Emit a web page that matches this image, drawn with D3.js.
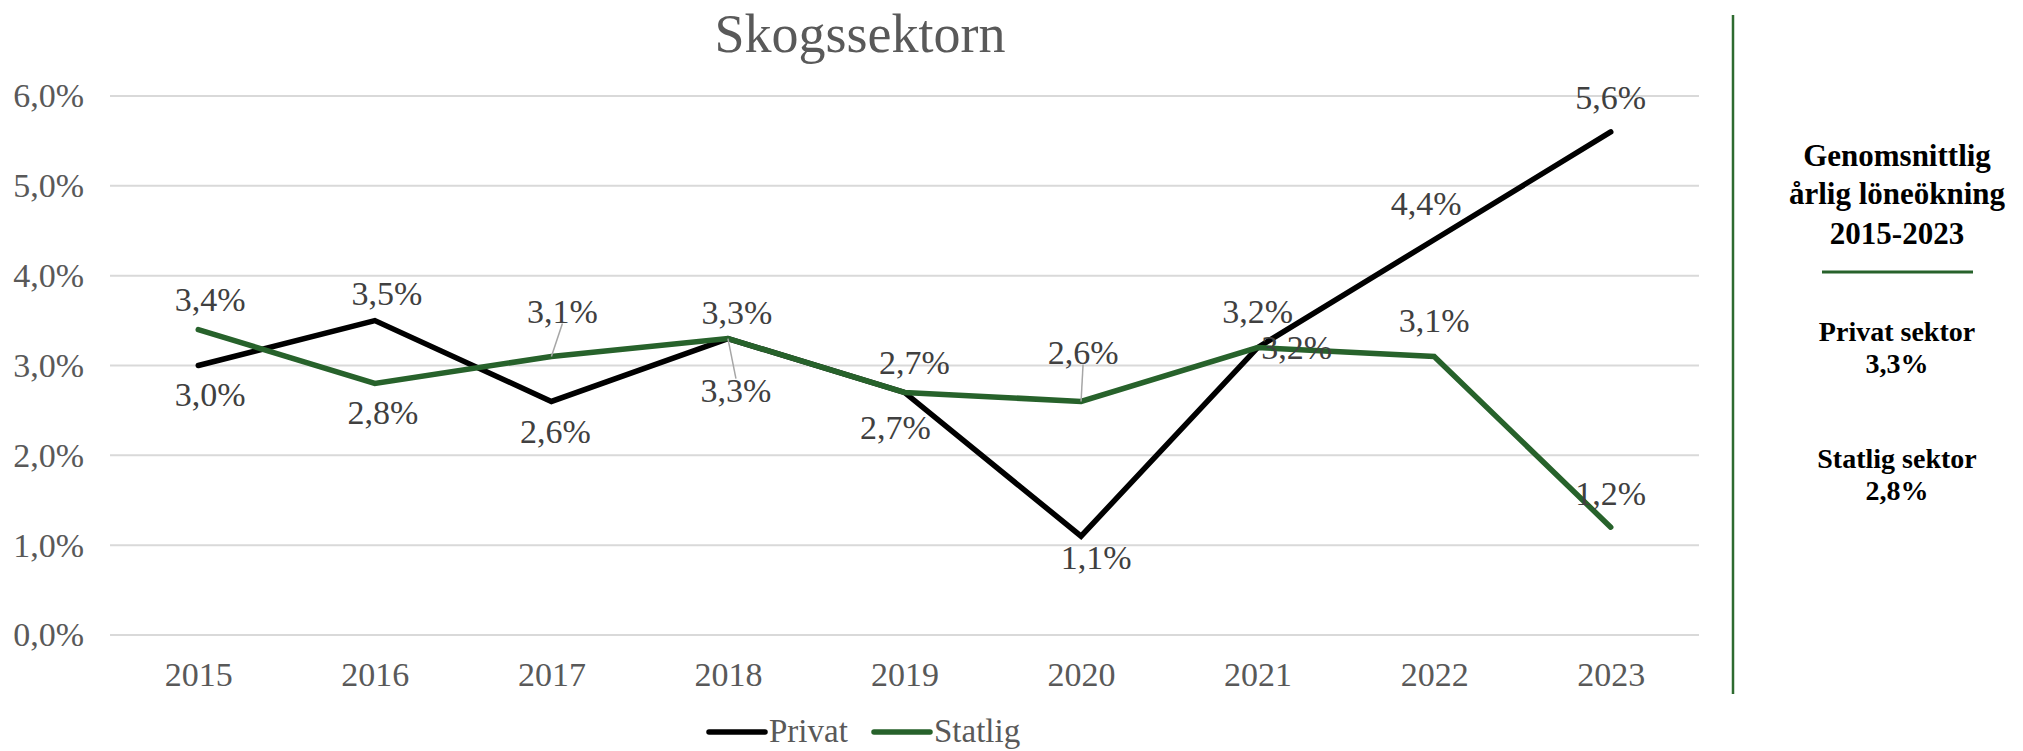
<!DOCTYPE html>
<html>
<head>
<meta charset="utf-8">
<script src="https://cdn.jsdelivr.net/npm/d3@7"></script>
<style>
  body { margin: 0; background: #fff; }
  text { font-family: "Liberation Serif", serif; }
</style>
</head>
<body>
<div id="chart"></div>
<script>
"use strict";
const years = [2015, 2016, 2017, 2018, 2019, 2020, 2021, 2022, 2023];
const privat = [3.0, 3.5, 2.6, 3.3, 2.7, 1.1, 3.2, 4.4, 5.6];
const statlig = [3.4, 2.8, 3.1, 3.3, 2.7, 2.6, 3.2, 3.1, 1.2];
const yTicks = [0, 1, 2, 3, 4, 5, 6];
const seriesNames = ['Privat', 'Statlig'];
const panelTitle = ['Genomsnittlig', 'årlig löneökning', '2015-2023'];
const panelItems = [['Privat sektor', '3,3%'], ['Statlig sektor', '2,8%']];

// label placement (dx, dy relative to the point), like the Excel labels
const privatLabelOffset = [[12, 29], [12, -27], [4, 30], [8, 52], [-9, 35], [15, 21], [0, -36], [-8, -37], [0, -35]];
const statligLabelOffset = [[12, -30], [8, 29], [11, -45], [9, -26], [10, -30], [2, -49], [39, 0], [0, -36], [0, -34]];
const privatLeaders = [3];
const statligLeaders = [2, 5];

const width = 2023;
const height = 751;
const gray = '#595959';
const green = '#27622b';

const svg = d3.select('#chart').append('svg')
    .attr('width', width)
    .attr('height', height);

const x = d3.scalePoint()
    .domain(years)
    .range([110, 1699])
    .padding(0.5);
const y = d3.scaleLinear()
    .domain([0, 6])
    .range([635, 96]);

const fmt = v => v.toFixed(1).replace('.', ',') + '%';

// title
svg.append('text')
    .attr('x', 860)
    .attr('y', 52)
    .attr('text-anchor', 'middle')
    .attr('font-size', 54)
    .attr('fill', gray)
    .text('Skogssektorn');

// gridlines
svg.append('g').selectAll('line')
    .data(yTicks)
    .join('line')
    .attr('x1', 110)
    .attr('x2', 1699)
    .attr('y1', d => y(d))
    .attr('y2', d => y(d))
    .attr('stroke', '#d9d9d9')
    .attr('stroke-width', 2);

// y axis labels
const yAxis = svg.append('g')
    .attr('transform', 'translate(84,0)')
    .call(d3.axisLeft(y).tickValues(yTicks).tickFormat(fmt).tickSize(0).tickPadding(0));
yAxis.select('.domain').remove();
yAxis.selectAll('text')
    .attr('font-family', '"Liberation Serif", serif')
    .attr('font-size', 34)
    .attr('fill', gray);

// x axis labels
const xAxis = svg.append('g')
    .attr('transform', 'translate(0,662)')
    .call(d3.axisBottom(x).tickSize(0).tickPadding(0));
xAxis.select('.domain').remove();
xAxis.selectAll('text')
    .attr('font-family', '"Liberation Serif", serif')
    .attr('font-size', 34)
    .attr('fill', gray);

const line = d3.line()
    .x((d, i) => x(years[i]))
    .y(d => y(d));

const series = [
    { name: 'Privat', values: privat, color: '#000000', offsets: privatLabelOffset, leaders: privatLeaders },
    { name: 'Statlig', values: statlig, color: green, offsets: statligLabelOffset, leaders: statligLeaders }
];

series.forEach(s => {
    svg.append('path')
        .attr('d', line(s.values))
        .attr('fill', 'none')
        .attr('stroke', s.color)
        .attr('stroke-width', 5.5)
        .attr('stroke-linejoin', 'miter')
        .attr('stroke-linecap', 'round');
});

// data labels and leader lines
series.forEach(s => {
    const g = svg.append('g');
    s.leaders.forEach(i => {
        const px = x(years[i]);
        const py = y(s.values[i]);
        const [dx, dy] = s.offsets[i];
        const ly = py + dy + (dy < 0 ? 12 : -12);
        g.append('line')
            .attr('x1', px + dx)
            .attr('y1', ly)
            .attr('x2', px)
            .attr('y2', py)
            .attr('stroke', '#a6a6a6')
            .attr('stroke-width', 1.5);
    });
    g.selectAll('text')
        .data(s.values)
        .join('text')
        .attr('x', (d, i) => x(years[i]) + s.offsets[i][0])
        .attr('y', (d, i) => y(d) + s.offsets[i][1])
        .attr('dy', '0.35em')
        .attr('text-anchor', 'middle')
        .attr('font-size', 34)
        .attr('fill', '#404040')
        .text(d => fmt(d));
});

// legend (kept just inside the bottom edge)
const legend = svg.append('g');
const legendX = [709, 874];
series.forEach((s, i) => {
    legend.append('line')
        .attr('x1', legendX[i])
        .attr('x2', legendX[i] + 56)
        .attr('y1', 732)
        .attr('y2', 732)
        .attr('stroke', s.color)
        .attr('stroke-width', 5.5)
        .attr('stroke-linecap', 'round');
    legend.append('text')
        .attr('x', legendX[i] + 60)
        .attr('y', 742)
        .attr('font-size', 33)
        .attr('fill', gray)
        .text(seriesNames[i]);
});

// right panel
svg.append('line')
    .attr('x1', 1733).attr('x2', 1733)
    .attr('y1', 15).attr('y2', 694)
    .attr('stroke', '#2e6b30')
    .attr('stroke-width', 2.5);

const panel = svg.append('g');
const panelX = 1897;
const titleBase = [166, 204, 244];
panelTitle.forEach((t, i) => {
    panel.append('text')
        .attr('x', panelX)
        .attr('y', titleBase[i])
        .attr('text-anchor', 'middle')
        .attr('font-size', 31)
        .attr('font-weight', 'bold')
        .attr('fill', '#000')
        .text(t);
});
panel.append('line')
    .attr('x1', 1822).attr('x2', 1973)
    .attr('y1', 272).attr('y2', 272)
    .attr('stroke', green)
    .attr('stroke-width', 3);

const itemBase = [341, 468];
panelItems.forEach((item, i) => {
    item.forEach((t, j) => {
        panel.append('text')
            .attr('x', panelX)
            .attr('y', itemBase[i] + j * 32)
            .attr('text-anchor', 'middle')
            .attr('font-size', 28)
            .attr('font-weight', 'bold')
            .attr('fill', '#000')
            .text(t);
    });
});
</script>
</body>
</html>
